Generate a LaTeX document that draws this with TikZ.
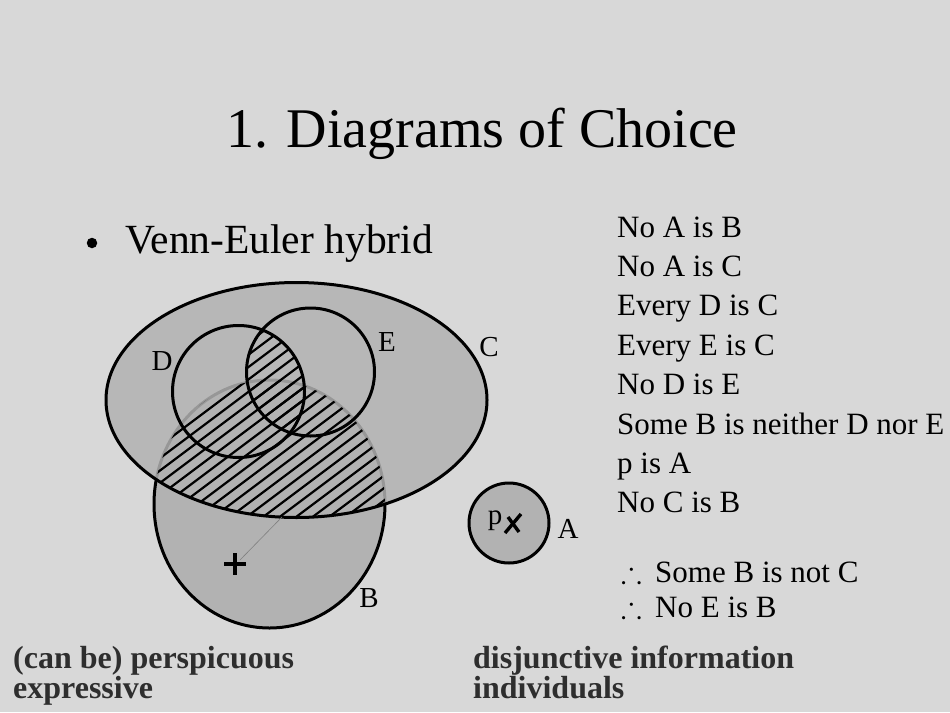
\documentclass[tikz,border=0pt]{standalone}
\usepackage{fontspec}
\usepackage{amssymb}
\setmainfont{Liberation Serif}
\definecolor{bg}{HTML}{D8D8D8}
\definecolor{regiongray}{HTML}{B2B2B2}
\definecolor{boldtxt}{HTML}{2E2E2E}
\begin{document}
\begin{tikzpicture}[x=1pt,y=-1pt,
  outline/.style={draw=black,line width=3pt},
  hatchline/.style={line width=2.2pt,black},
  lbl/.style={font=\fontsize{29}{32}\selectfont,inner sep=0pt},
  stmt/.style={font=\fontsize{31}{36}\selectfont,anchor=base west,inner sep=0pt},
  note/.style={font=\fontsize{32}{36}\selectfont\bfseries,text=boldtxt,anchor=base west,inner sep=0pt}]
\useasboundingbox[fill=bg] (0,0) rectangle (950,712);

% title and bullet
\node[anchor=base,font=\fontsize{56}{60}\selectfont,inner sep=0pt] (title) at (482,147) {1. Diagrams of Choice};
\node[circle,fill=black,inner sep=0pt,minimum size=10.5pt] (dot) at (92,243) {};
\node[anchor=base west,font=\fontsize{41.5}{46}\selectfont,inner sep=0pt] (bullet) at (125,253) {Venn-Euler hybrid};

% circle B (below C)
\draw[outline,fill=regiongray] (269.5,504) ellipse [x radius=115.5pt,y radius=124pt];
% ellipse C fill, semi-transparent so that B's arc shows faintly
\fill[regiongray,fill opacity=0.85] (296.5,400) ellipse [x radius=190.5pt,y radius=117.5pt];

% hatching: B and C
\begin{scope}
  \clip (296.5,400) ellipse [x radius=190.5pt,y radius=117.5pt];
  \clip (269.5,504) ellipse [x radius=115.5pt,y radius=124pt];
  \foreach \i in {-30,...,22} \draw[hatchline] (16.5*\i,640) -- ++(540,-405);
\end{scope}
% hatching: D and E
\begin{scope}
  \clip (238.5,391.5) circle [radius=66pt];
  \clip (310.5,372) circle [radius=64pt];
  \foreach \i in {-30,...,22} \draw[hatchline] (16.5*\i,640) -- ++(540,-405);
\end{scope}

% outlines
\draw[outline] (296.5,400) ellipse [x radius=190.5pt,y radius=117.5pt];
\draw[outline] (238.5,391.5) circle [radius=66pt];
\draw[outline] (310.5,372) circle [radius=64pt];

% plus mark and thin line
\draw[line width=3.2pt] (224,564) -- (246,564);
\draw[line width=3.2pt] (235,553) -- (235,575);
\draw[gray,line width=0.6pt] (240,560) -- (282,517);

% circle A
\draw[outline,fill=regiongray] (509,523) circle [radius=40pt];
\node[lbl,anchor=base] (p) at (495,524) {p};
\draw[line width=3.4pt] (505,533) -- (521,514);
\draw[line width=3.4pt] (508,517) -- (519,532);

% labels
\node[lbl] (labD) at (162,361) {D};
\node[lbl] (labE) at (387,342) {E};
\node[lbl] (labC) at (489,347) {C};
\node[lbl] (labB) at (369,598) {B};
\node[lbl] (labA) at (568,529) {A};

% statements
\node[stmt] (s1) at (617,237) {No A is B};
\node[stmt] (s2) at (617,276.4) {No A is C};
\node[stmt] (s3) at (617,315.8) {Every D is C};
\node[stmt] (s4) at (617,355.2) {Every E is C};
\node[stmt] (s5) at (617,394.6) {No D is E};
\node[stmt] (s6) at (617,434) {Some B is neither D nor E};
\node[stmt] (s7) at (617,473.4) {p is A};
\node[stmt] (s8) at (617,512.8) {No C is B};
\node[stmt] (t1) at (621,582) {$\therefore$};
\node[stmt] (c1) at (655,582) {Some B is not C};
\node[stmt] (t2) at (621,617) {$\therefore$};
\node[stmt] (c2) at (655,617) {No E is B};

% bottom notes
\node[note] (n1) at (13,668) {(can be) perspicuous};
\node[note] (n2) at (13,698) {expressive};
\node[note] (n3) at (473,668) {disjunctive information};
\node[note] (n4) at (473,698) {individuals};
\end{tikzpicture}
\end{document}
